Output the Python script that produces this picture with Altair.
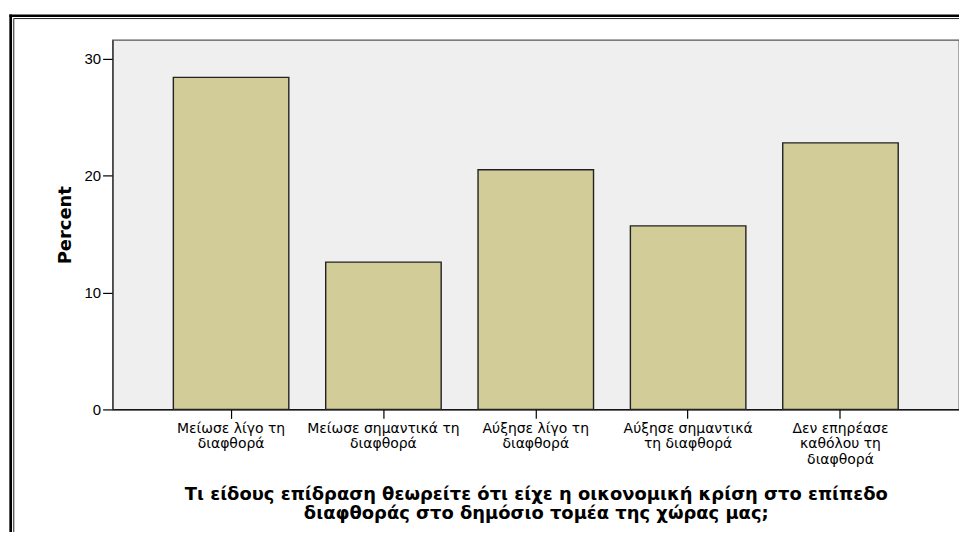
import altair as alt
import pandas as pd

categories = [
    "Μείωσε λίγο τη|διαφθορά",
    "Μείωσε σημαντικά τη|διαφθορά",
    "Αύξησε λίγο τη|διαφθορά",
    "Αύξησε σημαντικά|τη διαφθορά",
    "Δεν επηρέασε|καθόλου τη|διαφθορά",
]
percent = [28.4, 12.6, 20.5, 15.7, 22.8]
y_ticks = [0, 10, 20, 30]
x_title = [
    "Τι είδους επίδραση θεωρείτε ότι είχε η οικονομική κρίση στο επίπεδο",
    "διαφθοράς στο δημόσιο τομέα της χώρας μας;",
]
y_title = "Percent"

df = pd.DataFrame({"cat": categories, "pct": percent})

W, H = 850, 371

bars = alt.Chart(df).mark_bar(
    fill="#D2CD98", stroke="#222222", strokeWidth=1.4
).encode(
    x=alt.X(
        "cat:N",
        sort=None,
        scale=alt.Scale(paddingInner=0.242, paddingOuter=0.399),
        axis=alt.Axis(
            title=x_title,
            labelAngle=0,
            labelExpr="split(datum.label, '|')",
            labelFont="DejaVu Sans",
            labelFontSize=14,
            labelLineHeight=15.7,
            labelColor="#000000",
            labelPadding=3,
            labelLimit=0,
            tickSize=9,
            tickColor="#000000",
            tickWidth=1.2,
            domainColor="#000000",
            domainWidth=1.2,
            titleFont="DejaVu Sans",
            titleFontSize=18,
            titleFontWeight="bold",
            titleLineHeight=19.5,
            titleColor="#000000",
            titleBaseline="top",
            titleY=76,
        ),
    ),
    y=alt.Y(
        "pct:Q",
        scale=alt.Scale(domain=[0, 31.6], nice=False, zero=True),
        axis=alt.Axis(
            title=y_title,
            values=y_ticks,
            grid=False,
            labelFont="Liberation Sans",
            labelFontSize=15,
            labelColor="#000000",
            labelPadding=2,
            tickSize=10,
            tickColor="#000000",
            tickWidth=1.2,
            domainColor="#333333",
            domainWidth=1.2,
            titleFont="DejaVu Sans",
            titleFontSize=18,
            titleFontWeight="bold",
            titleColor="#000000",
            titleAngle=270,
            titleBaseline="middle",
            titleAlign="center",
            titleX=-47,
            titleY=H / 2,
        ),
    ),
)

frame_data = alt.Data(values=[{"a": 1}])
outer_v = alt.Chart(frame_data).mark_rule(color="#000000", strokeWidth=2.7).encode(
    x=alt.value(-102.3), y=alt.value(-25.6), y2=alt.value(700)
)
outer_h = alt.Chart(frame_data).mark_rule(color="#000000", strokeWidth=2.7).encode(
    y=alt.value(-24.3), x=alt.value(-103.6), x2=alt.value(1000)
)
inner_v = alt.Chart(frame_data).mark_rule(color="#222222", strokeWidth=1).encode(
    x=alt.value(-99.2), y=alt.value(-21.5), y2=alt.value(700)
)
inner_h = alt.Chart(frame_data).mark_rule(color="#222222", strokeWidth=1).encode(
    y=alt.value(-21.5), x=alt.value(-99.2), x2=alt.value(1000)
)

chart = alt.layer(
    outer_v, outer_h, inner_v, inner_h, bars
).properties(
    width=W,
    height=H,
    autosize=alt.AutoSizeParams(type="none"),
    padding={"left": 105, "top": 31, "right": 0, "bottom": 122},
    background="#FFFFFF",
).configure_view(
    fill="#EFEFEF", stroke="#555555", strokeWidth=1.3
)

chart.save("out.html", embed_options={"renderer": "svg", "actions": False})
